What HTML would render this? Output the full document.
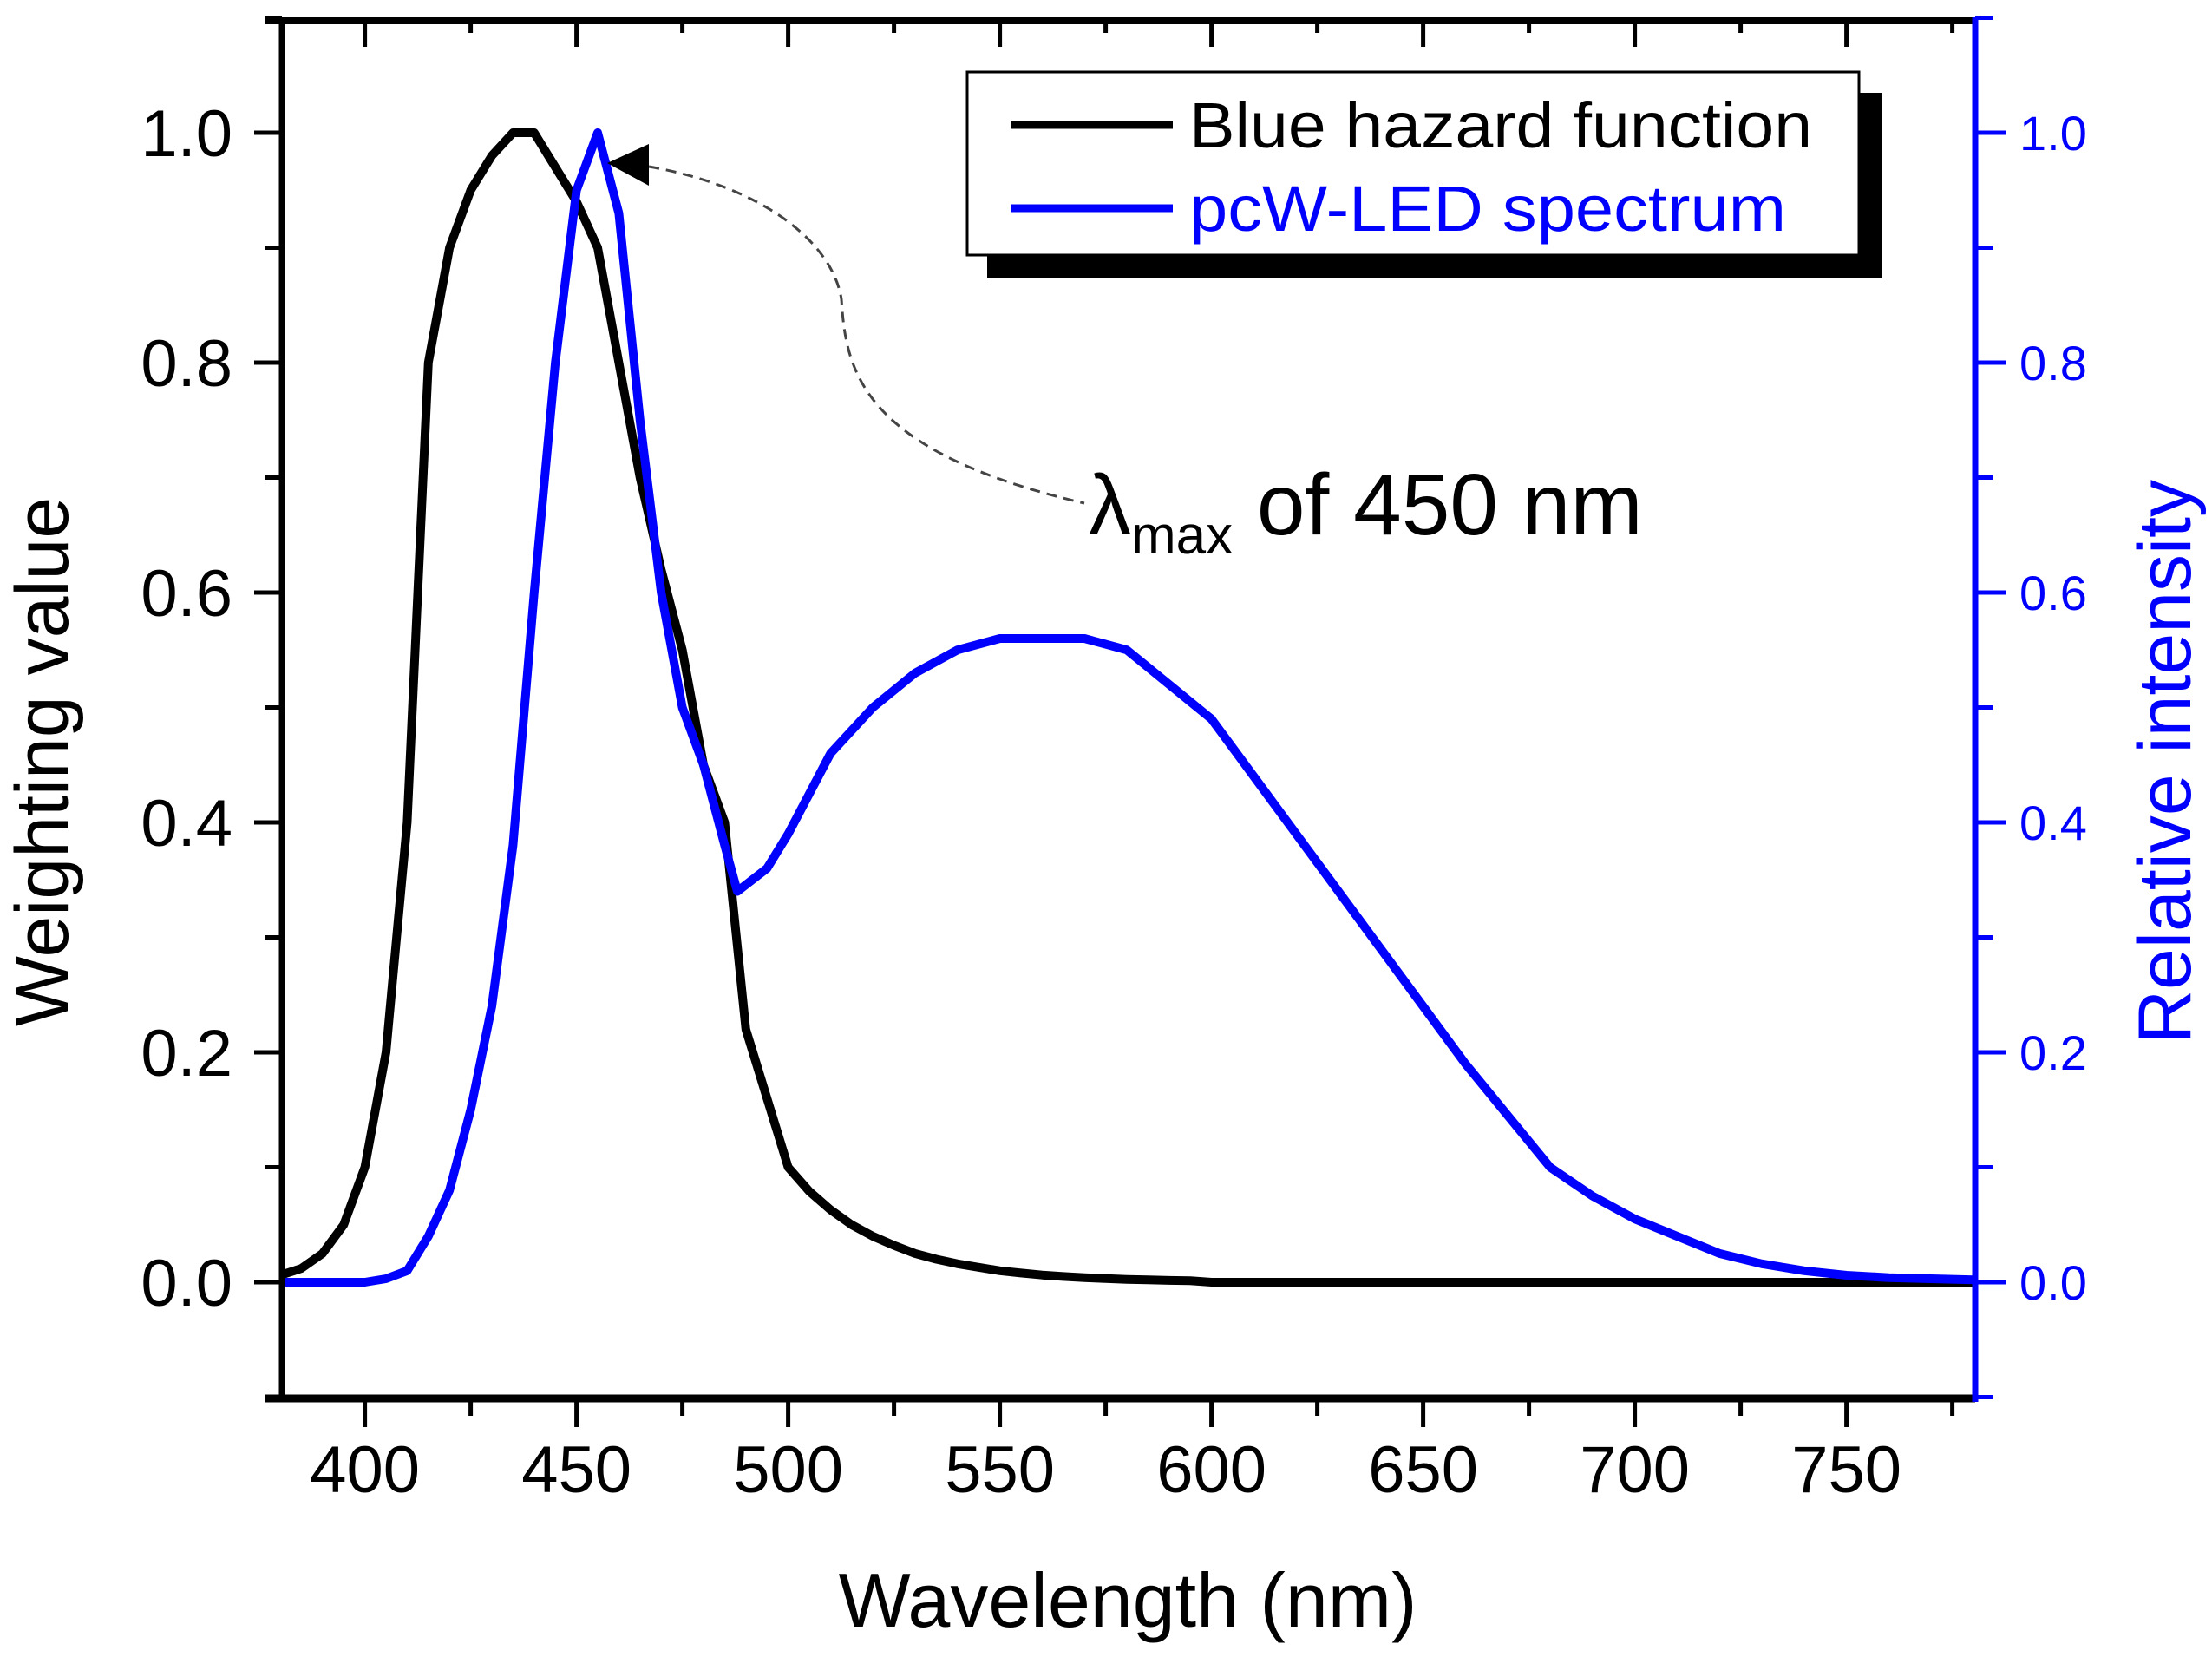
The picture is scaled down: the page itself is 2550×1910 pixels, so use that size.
<!DOCTYPE html>
<html><head><meta charset="utf-8"><style>
html,body{margin:0;padding:0;background:#fff;}
svg{display:block;font-family:"Liberation Sans",Arial,sans-serif;}
</style></head><body>
<svg id="chart" width="2550" height="1910" viewBox="0 0 2550 1910" xmlns="http://www.w3.org/2000/svg">
<rect width="2550" height="1910" fill="#fff"/>
<g id="ticks"></g>
<g id="series"></g>
<g id="axes">
<line x1="306" y1="24" x2="2277" y2="24" stroke="#000" stroke-width="8"/>
<line x1="306" y1="1612" x2="2277" y2="1612" stroke="#000" stroke-width="9"/>
<line x1="325" y1="20" x2="325" y2="1616" stroke="#000" stroke-width="7"/>
<line x1="2277" y1="20" x2="2277" y2="1616" stroke="#0000ff" stroke-width="7"/>
</g>
<text x="1300" y="1875" font-size="88" text-anchor="middle">Wavelength (nm)</text>
<text transform="translate(78,878) rotate(-90)" font-size="86" text-anchor="middle">Weighting value</text>
<text transform="translate(2525,878) rotate(-90)" font-size="86" text-anchor="middle" fill="#0000ff">Relative intensity</text>
<g>
<rect x="1138" y="107" width="1031" height="214" fill="#000"/>
<rect x="1115" y="83" width="1028" height="211" fill="#fff" stroke="#000" stroke-width="3"/>
<line x1="1165" y1="144" x2="1352" y2="144" stroke="#000" stroke-width="9"/>
<text x="1371" y="170" font-size="74" textLength="718" lengthAdjust="spacingAndGlyphs">Blue hazard function</text>
<line x1="1165" y1="240" x2="1352" y2="240" stroke="#0000ff" stroke-width="9"/>
<text x="1371" y="266" font-size="74" fill="#0000ff" textLength="688" lengthAdjust="spacingAndGlyphs">pcW-LED spectrum</text>
</g>
<g>
<path d="M748,192 C880,215 960,280 970,345 C975,425 990,520 1250,580" fill="none" stroke="#444" stroke-width="3" stroke-dasharray="12,8"/>
<polygon points="700,188 748,166 748,214" fill="#000"/>
<text x="1255" y="616" font-size="98">λ<tspan font-size="62" dy="22">max</tspan><tspan dy="-22" font-size="100"> of 450 nm</tspan></text>
</g>
</svg>
<script>
const hazardWl = [380,385,390,395,400,405,410,415,420,425,430,435,440,445,450,455,460,465,470,475,480,485,490,495,500,505,510,515,520,525,530,535,540,545,550,555,560,565,570,575,580,585,590,595,600,650,700,750,780];
const hazardVals = [0.006,0.012,0.025,0.05,0.1,0.2,0.4,0.8,0.9,0.95,0.98,1.0,1.0,0.97,0.94,0.9,0.8,0.7,0.62,0.55,0.45,0.4,0.22,0.16,0.1,0.079,0.063,0.05,0.04,0.032,0.025,0.02,0.016,0.013,0.01,0.008,0.0063,0.005,0.004,0.0032,0.0025,0.002,0.0016,0.0013,0,0,0,0,0];
const ledWl = [380,390,400,405,410,415,420,425,430,435,440,445,450,455,460,465,470,475,480,485,488,495,500,510,520,530,540,550,560,570,580,590,600,610,620,630,640,650,660,670,680,690,700,710,720,730,740,750,760,770,780];
const ledVals = [0,0,0,0.003,0.01,0.04,0.08,0.15,0.24,0.38,0.6,0.8,0.95,1.0,0.93,0.75,0.6,0.5,0.45,0.38,0.34,0.36,0.39,0.46,0.5,0.53,0.55,0.56,0.56,0.56,0.55,0.52,0.49,0.44,0.39,0.34,0.29,0.24,0.19,0.145,0.1,0.075,0.055,0.04,0.025,0.016,0.01,0.006,0.004,0.003,0.002];
const xMajor = [400,450,500,550,600,650,700,750];
const xMinor = [425,475,525,575,625,675,725,775];
const yMajor = [0,0.2,0.4,0.6,0.8,1.0];
const yMinor = [-0.1,0.1,0.3,0.5,0.7,0.9,1.1];
const yLabels = ["0.0","0.2","0.4","0.6","0.8","1.0"];

const NS = "http://www.w3.org/2000/svg";
function xs(v){ return 323 + (v - 380) * 4.88; }
function ys(v){ return 1478 - v * 1325; }
function mk(tag, attrs, parent){ const e = document.createElementNS(NS, tag); for (const k in attrs) e.setAttribute(k, attrs[k]); parent.appendChild(e); return e; }

const ticks = document.getElementById('ticks');
xMajor.forEach((v, i) => {
  const x = xs(v);
  let t = mk('line', {x1:x, y1:1612, x2:x, y2:1645, stroke:'#000', 'stroke-width':5}, ticks);
  
  
  let tt = mk('line', {x1:x, y1:24, x2:x, y2:54, stroke:'#000', 'stroke-width':5}, ticks);
  
  
  let l = mk('text', {x:x, y:1720, 'font-size':76, 'text-anchor':'middle'}, ticks);
  l.textContent = String(v);
  
  
});
xMinor.forEach(v => {
  const x = xs(v);
  let t = mk('line', {x1:x, y1:1612, x2:x, y2:1632, stroke:'#000', 'stroke-width':5}, ticks);
  
  
  let tt = mk('line', {x1:x, y1:24, x2:x, y2:38, stroke:'#000', 'stroke-width':5}, ticks);
  
  
});
yMajor.forEach((v, i) => {
  const y = ys(v);
  let t = mk('line', {x1:293, y1:y, x2:325, y2:y, stroke:'#000', 'stroke-width':5}, ticks);
  
  
  let l = mk('text', {x:268, y:y + 27, 'font-size':76, 'text-anchor':'end'}, ticks);
  l.textContent = yLabels[i];
  
  
  let r = mk('line', {x1:2277, y1:y, x2:2312, y2:y, stroke:'#0000ff', 'stroke-width':5}, ticks);
  
  
  let rl = mk('text', {x:2328, y:y + 20, 'font-size':56, fill:'#0000ff'}, ticks);
  rl.textContent = yLabels[i];
  
  
});
yMinor.forEach(v => {
  const y = ys(v);
  let t = mk('line', {x1:306, y1:y, x2:325, y2:y, stroke:'#000', 'stroke-width':5}, ticks);
  
  
  let r = mk('line', {x1:2277, y1:y, x2:2297, y2:y, stroke:'#0000ff', 'stroke-width':5}, ticks);
  
  
});

const series = document.getElementById('series');
function pts(wl, vals){ return wl.map((w, i) => xs(w).toFixed(1) + ',' + ys(vals[i]).toFixed(1)).join(' '); }
const hz = mk('polyline', {points:pts(hazardWl, hazardVals), fill:'none', stroke:'#000', 'stroke-width':10, 'stroke-linejoin':'round'}, series);


const led = mk('polyline', {points:pts(ledWl, ledVals), fill:'none', stroke:'#0000ff', 'stroke-width':10, 'stroke-linejoin':'round'}, series);


</script>
</body></html>
